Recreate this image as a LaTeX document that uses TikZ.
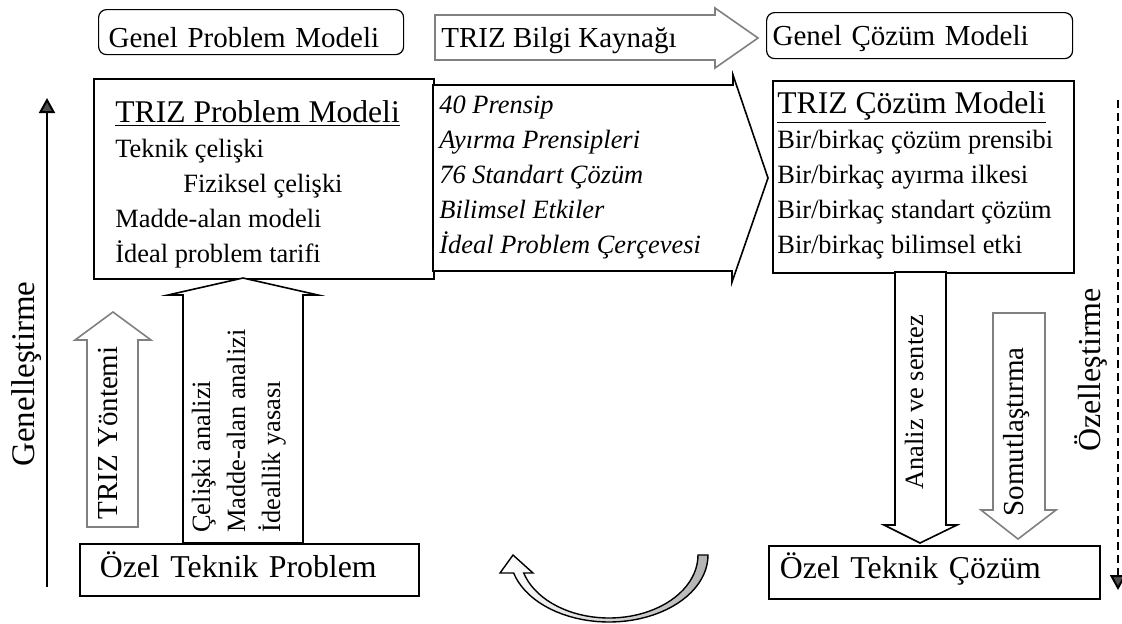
\documentclass[tikz,border=0pt]{standalone}
\usepackage{fontspec}
\setmainfont{Liberation Serif}
\usetikzlibrary{arrows.meta, positioning, calc}
\newcommand{\setfs}[1]{\fontsize{#1}{17.5pt}\selectfont}

\begin{document}
\begin{tikzpicture}[
    x=0.5pt, y=-0.5pt,
    genbox/.style={draw, rounded corners=4pt, line width=0.6pt, inner ysep=0pt, align=left, font=\setfs{14.5}},
    modelbox/.style={draw, line width=0.8pt, inner sep=0pt},
    ozelbox/.style={draw, line width=0.8pt, inner ysep=0pt, align=left, font=\setfs{15.9}},
    blockarr/.style={draw, line width=0.8pt, fill=white},
    hollowarr/.style={draw=black!50, line width=0.8pt, fill=white},
    curvearr/.style={draw, line width=0.7pt, left color=white, middle color=white, right color=black!30},
    txt/.style={inner sep=0pt, anchor=base west, align=left, font=\setfs{13.2}},
    vtxt/.style={txt, rotate=90},
    axisarr/.style={line width=1pt, -{Triangle[length=7.5pt, width=8pt, fill=black!70]}}
  ]
  \useasboundingbox (0,0) rectangle (1122,623);

  % ust satir
  \node[genbox, anchor=north west, text width=142.5pt, inner xsep=5pt, text height=19pt, text depth=3.5pt] (gpm) at (98,9) {Genel Problem Modeli};
  \draw[hollowarr] (435,15) -- (715,15) -- (715,8) -- (758,38) -- (715,68) -- (715,60) -- (435,60) -- cycle;
  \node[txt, font=\setfs{14.5}] (bilgi) at (441,47) {TRIZ Bilgi Kaynağı};
  \node[genbox, anchor=north west, text width=147pt, inner xsep=3pt, text height=16.5pt, text depth=6.5pt] (gcm) at (766,12) {Genel Çözüm Modeli};

  % modeller
  \node[modelbox, anchor=north west, minimum width=170pt, minimum height=100pt] (pm) at (93,78) {};
  \draw[blockarr] (433,85) -- (733,85) -- (733,75) -- (768,178) -- (732,282) -- (732,271) -- (433,271) -- cycle;
  \node[modelbox, anchor=north west, minimum width=150.5pt, minimum height=96pt] (cm) at (772,80) {};

  % base = son satir
  \node[txt] (pmtext) at (115,262) {{\setfs{15.8}\underline{TRIZ Problem Modeli}}\\ Teknik çelişki\\ \hspace*{34pt}Fiziksel çelişki\\ Madde-alan modeli\\ İdeal problem tarifi};
  \node[txt, font=\setfs{13.2}\itshape] (kaynak) at (439,253) {40 Prensip\\ Ayırma Prensipleri\\ 76 Standart Çözüm\\ Bilimsel Etkiler\\ İdeal Problem Çerçevesi};
  \node[txt] (cmtext) at (777,253) {{\setfs{15.8}\underline{TRIZ Çözüm Modeli}}\\ Bir/birkaç çözüm prensibi\\ Bir/birkaç ayırma ilkesi\\ Bir/birkaç standart çözüm\\ Bir/birkaç bilimsel etki};

  % alt kutular
  \node[ozelbox, anchor=north west, text width=149.5pt, inner xsep=10pt, text height=17pt, text depth=9pt] (ozp) at (79,543) {Özel Teknik Problem};
  \node[ozelbox, anchor=north west, text width=154.5pt, inner xsep=5.5pt, text height=16.5pt, text depth=10pt] (ozc) at (768,545) {Özel Teknik Çözüm};

  % dikey oklar
  \draw[hollowarr] (87,527) -- (87,340) -- (75,340) -- (113,312) -- (151,340) -- (138,340) -- (138,527) -- cycle;
  \draw[blockarr] (183,543) -- (183,295) -- (168,295) -- (243,278) -- (318,295) -- (303,295) -- (303,543) -- cycle;
  \draw[blockarr] (895,272) -- (895,525) -- (884,525) -- (920,543) -- (957,525) -- (946,525) -- (946,272) -- cycle;
  \draw[hollowarr] (993,313) -- (993,510) -- (981,510) -- (1018,539) -- (1056,510) -- (1045,510) -- (1045,313) -- cycle;

  \node[vtxt, font=\setfs{14.5}] (yontem) at (117,520) {TRIZ Yöntemi};
  \node[vtxt] (analizler) at (280,533) {Çelişki analizi\\ Madde-alan analizi\\ İdeallik yasası};
  \node[vtxt] (sentez) at (923,490) {Analiz ve sentez};
  \node[vtxt, font=\setfs{14.5}] (somut) at (1023,517) {Somutlaştırma};

  % yan eksenler
  \coordinate (gbot) at (47,587);
  \coordinate (gtop) at (47,98);
  \draw[axisarr] (gbot) -- (gtop);
  \node[vtxt, font=\setfs{16.5}] (genel) at (34,467) {Genelleştirme};
  \coordinate (otop) at (1118,100);
  \coordinate (obot) at (1118,590);
  \draw[axisarr, dash pattern=on 4pt off 2.5pt] (otop) -- (obot);
  \node[vtxt, font=\setfs{16}] (ozel) at (1100,452) {Özelleştirme};

  % donus oku
  \draw[curvearr] (698,555) -- (708,555)
    -- plot[domain=0:164.4, samples=40, variable=\t] ({609+99*cos(\t)}, {555+67*sin(\t)})
    -- (500,573) -- (513,555) -- (533,573)
    -- plot[domain=163.4:0, samples=40, variable=\t] ({609+89*cos(\t)}, {555+63*sin(\t)})
    -- cycle;
\end{tikzpicture}
\end{document}
